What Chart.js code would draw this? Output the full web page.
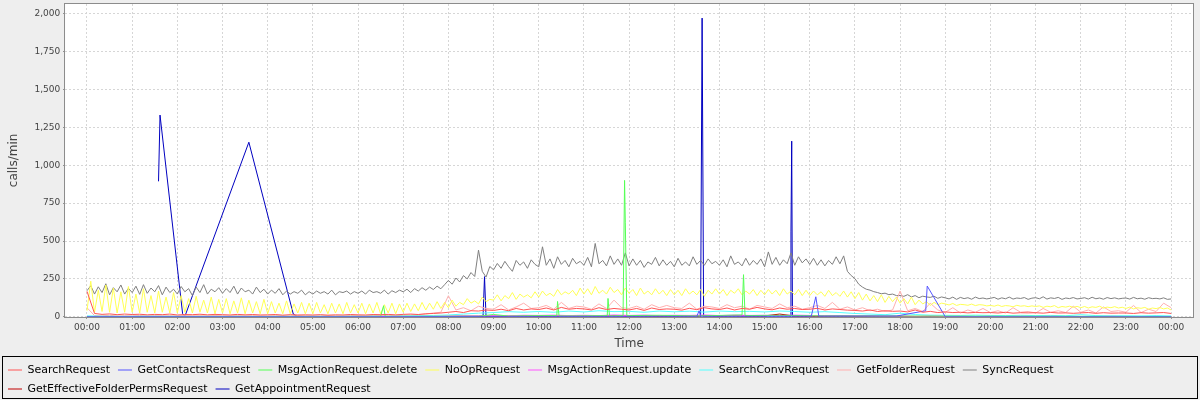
<!DOCTYPE html>
<html>
<head>
<meta charset="utf-8">
<script src="https://cdn.jsdelivr.net/npm/chart.js@4.4.0/dist/chart.umd.min.js"></script>
<style>
  html, body { margin: 0; padding: 0; background: #eeeeee; }
</style>
</head>
<body>
<canvas id="chart" width="1200" height="400"></canvas>
<script>
// ─── Data (minutes since 00:00) ─────────────────────────────────────────────

const SERIES_NAMES = [
  'SearchRequest', 'GetContactsRequest', 'MsgActionRequest.delete', 'NoOpRequest',
  'MsgActionRequest.update', 'SearchConvRequest', 'GetFolderRequest', 'SyncRequest',
  'GetEffectiveFolderPermsRequest', 'GetAppointmentRequest'
];
const SERIES_COLORS = [
  '#ff5555', '#5555ff', '#55ff55', '#ffff55', '#ff55ff',
  '#55ffff', '#ffafaf', '#808080', '#c00000', '#0000c0'
];

const TIME_LABELS = [
  '00:00', '01:00', '02:00', '03:00', '04:00', '05:00', '06:00', '07:00', '08:00',
  '09:00', '10:00', '11:00', '12:00', '13:00', '14:00', '15:00', '16:00', '17:00',
  '18:00', '19:00', '20:00', '21:00', '22:00', '23:00', '00:00'
];
const Y_TICKS = [0, 250, 500, 750, 1000, 1250, 1500, 1750, 2000];

// SyncRequest, one value every 5 minutes
const syncRequest = [
  172,205,150,198,160,218,145,192,165,210,150,188,
  160,202,148,212,155,190,165,206,145,196,160,182,
  150,200,165,186,140,196,160,212,150,182,165,192,
  155,186,160,202,150,190,165,176,150,196,160,182,
  150,176,155,186,145,170,150,166,155,176,145,166,
  150,170,155,166,150,176,145,166,160,170,150,166,
  155,170,150,176,160,166,155,176,150,172,160,176,
  165,182,160,186,170,192,175,196,180,202,185,212,
  240,215,256,230,272,250,292,266,440,300,262,332,
  310,352,320,366,330,300,372,340,362,320,376,346,
  330,462,340,382,320,396,346,372,330,386,350,366,
  340,392,330,484,350,372,336,402,346,382,340,422,
  336,382,340,372,326,362,346,392,336,376,340,366,
  330,386,340,362,336,396,346,372,340,382,350,366,
  340,376,330,402,346,362,336,386,340,372,346,382,
  330,428,346,392,340,376,350,422,340,396,356,382,
  346,386,340,376,336,372,346,396,350,402,300,272,
  252,215,196,182,176,166,160,152,156,146,150,140,
  141,135,146,131,140,126,136,131,128,136,122,131,
  125,118,130,115,128,120,126,116,130,120,124,118,
  122,128,116,125,119,130,117,124,121,127,115,123,
  126,119,132,117,125,121,128,115,124,120,127,118,
  121,126,117,129,119,124,116,127,120,125,118,122,
  124,117,128,119,123,116,126,120,122,118,125,115,
  118
];

// NoOpRequest, one value every 5 minutes
const noOpRequest = [
  40,235,30,175,35,210,30,190,25,165,30,200,
  30,150,25,185,30,140,25,170,30,130,25,160,
  25,140,30,120,25,135,30,110,25,130,20,115,
  25,120,20,105,25,125,20,110,25,100,20,115,
  20,100,25,90,20,105,20,85,25,95,20,90,
  20,95,25,80,20,90,25,85,20,95,25,80,
  25,90,20,85,25,95,20,80,25,90,20,85,
  30,90,35,85,40,95,45,90,50,100,55,95,
  60,110,70,95,80,120,90,105,85,130,100,115,
  110,145,105,140,120,160,115,150,130,145,125,165,
  130,170,140,155,135,180,145,165,150,175,140,190,
  150,185,145,200,155,175,150,195,160,180,145,190,
  155,180,140,190,150,170,145,185,150,175,140,180,
  145,175,140,185,150,170,145,180,135,175,150,185,
  150,180,140,175,155,185,145,170,150,180,140,175,
  145,180,150,175,140,185,150,170,145,180,140,175,
  140,170,145,165,135,175,140,160,135,170,130,165,
  120,160,110,150,105,140,100,145,95,135,100,130,
  90,120,85,130,80,110,85,100,75,95,80,90,
  85,78,88,75,82,80,76,84,74,80,78,72,
  75,70,78,68,74,72,66,76,70,73,67,72,
  68,72,62,70,66,74,60,68,64,70,62,69,
  60,68,58,66,62,70,57,64,60,67,58,63,
  55,64,52,60,56,62,50,58,54,61,52,58,
  45
];

// SearchRequest, one value every 10 minutes
const searchRequest = [
  168,22,16,19,14,18,  15,17,13,16,14,18,  12,15,14,17,13,16,  14,12,16,13,15,12,
  13,15,11,14,12,13,  12,14,11,13,12,15,  13,12,15,14,16,13,  16,18,15,20,22,25,
  30,35,28,40,38,45,  42,50,40,55,45,52,  48,58,45,62,50,55,  52,45,60,48,55,50,
  45,55,42,58,48,52,  50,44,56,47,60,52,  48,58,45,55,50,62,  52,46,58,50,55,48,
  50,56,45,52,48,44,  42,38,45,35,40,36,  38,32,45,30,36,28,  32,28,30,26,29,27,
  28,25,30,24,27,26,  27,24,29,25,26,23,  26,28,23,27,24,25,  25,22,27,24,26,28,
  22
];

// GetFolderRequest, one value every 10 minutes
const getFolderRequest = [
  60,8,6,10,5,7,  6,9,5,8,6,7,  5,8,6,7,5,9,  6,5,8,6,7,5,
  5,7,6,5,8,6,  6,5,7,6,5,8,  7,6,9,8,10,7,  10,12,15,18,25,30,
  139,45,60,40,70,55,  50,80,45,65,90,55,  60,75,50,95,55,70,  65,50,85,55,110,60,
  55,70,50,80,60,75,  60,55,90,50,70,65,  55,80,60,70,50,75,  65,55,85,60,70,50,
  60,75,55,95,50,65,  45,60,40,50,35,45,  170,40,55,35,90,45,  30,60,25,45,30,55,
  28,40,25,60,30,35,  25,55,30,40,28,70,  30,45,25,65,35,40,  30,75,28,50,35,90,
  60
];

// SearchConvRequest, one value every 20 minutes
const searchConvRequest = [
  6,4,3, 3,4,3, 3,2,3, 2,3,2, 2,3,2, 3,2,3, 3,4,3, 5,7,9,
  12,18,24, 28,34,30, 35,30,38, 32,40,34, 36,30,38, 33,37,31, 38,34,36, 32,38,35,
  30,34,28, 22,18,14, 24,15,11, 10,9,11, 9,8,10, 8,9,7, 14,8,7, 7,6,8,
  6
];

// MsgActionRequest.update, one value every 20 minutes
const msgUpdateRequest = [
  2,1,2, 1,2,1, 1,1,2, 1,2,1, 1,1,1, 1,2,1, 2,1,2, 2,3,3,
  4,6,7, 8,7,10, 9,11,8, 10,8,12, 9,11,8, 10,9,12, 8,11,9, 10,8,11,
  9,7,8, 6,5,4, 4,3,4, 3,3,2, 3,2,3, 2,3,2, 2,2,3, 2,2,2,
  2
];

// GetEffectiveFolderPermsRequest, one value every 20 minutes
const effPermsRequest = [
  1,0,1, 0,1,0, 1,0,0, 0,1,0, 0,0,1, 0,1,0, 1,0,1, 1,2,2,
  3,4,3, 5,4,6, 4,6,5, 6,5,7, 5,6,4, 6,5,7, 5,7,5, 6,18,5,
  5,4,6, 3,4,3, 3,2,3, 2,2,1, 2,1,2, 1,2,1, 2,1,1, 1,1,1,
  1
];

// sparse series: sample time (minutes) + value
const msgDeleteTimes  = [0, 390, 394, 396, 520, 540, 560, 600, 624, 625, 627, 650, 691, 692, 694, 712, 714, 715, 717, 760, 810, 870, 872, 874, 920, 980, 1080, 1440];
const msgDeleteValues = [2, 3, 73, 3, 4, 15, 5, 8, 8, 101, 6, 6, 8, 121, 6, 8, 900, 620, 8, 10, 6, 12, 278, 8, 10, 6, 5, 2];

const contactsTimes  = [0, 300, 480, 810, 813, 815, 962, 968, 972, 1075, 1114, 1116, 1140, 1440];
const contactsValues = [2, 1, 2, 3, 40, 3, 4, 132, 4, 5, 40, 203, 0, 1];

const appointmentTimes  = [95, 97, 127, 130, 215, 274, 280, 526, 528, 530, 815, 817, 819, 934, 935, 936, 937, 1440];
const appointmentValues = [894, 1331, 20, 3, 1152, 18, 0, 0, 265, 0, 0, 1971, 0, 0, 560, 1159, 0, 0];

// ─── Helpers ────────────────────────────────────────────────────────────────

function everyMinutes(values, step) {
  return values.map((v, i) => ({ x: i * step, y: v }));
}

function pairs(times, values) {
  return times.map((t, i) => ({ x: t, y: values[i] }));
}

const SERIES_DATA = [
  everyMinutes(searchRequest, 10),
  pairs(contactsTimes, contactsValues),
  pairs(msgDeleteTimes, msgDeleteValues),
  everyMinutes(noOpRequest, 5),
  everyMinutes(msgUpdateRequest, 20),
  everyMinutes(searchConvRequest, 20),
  everyMinutes(getFolderRequest, 10),
  everyMinutes(syncRequest, 5),
  everyMinutes(effPermsRequest, 20),
  pairs(appointmentTimes, appointmentValues)
];

const FONT = 'DejaVu Sans';

const plotFrame = {
  id: 'plotFrame',
  beforeDraw(chart) {
    const { ctx, chartArea: a } = chart;
    ctx.save();
    ctx.fillStyle = '#eeeeee';
    ctx.fillRect(0, 0, chart.width, chart.height);
    ctx.fillStyle = '#ffffff';
    ctx.fillRect(a.left, a.top, a.right - a.left, a.bottom - a.top);
    ctx.restore();
  },
  afterDraw(chart) {
    const { ctx, chartArea: a } = chart;
    ctx.save();
    ctx.lineWidth = 1;
    ctx.strokeStyle = '#8c8c8c';
    ctx.strokeRect(Math.round(a.left) - 0.5, Math.round(a.top) - 0.5,
      Math.round(a.right - a.left) + 1, Math.round(a.bottom - a.top) + 1);
    // legend frame
    ctx.strokeStyle = '#000000';
    ctx.strokeRect(2.5, 356.5, 1195, 42);
    ctx.restore();
  }
};

const datasets = SERIES_NAMES.map((name, i) => ({
  label: name,
  data: SERIES_DATA[i],
  borderColor: SERIES_COLORS[i],
  backgroundColor: SERIES_COLORS[i],
  borderWidth: 1,
  pointRadius: 0,
  tension: 0,
  fill: false
}));

new Chart(document.getElementById('chart'), {
  type: 'line',
  data: { datasets },
  plugins: [plotFrame],
  options: {
    responsive: false,
    animation: false,
    events: [],
    layout: { padding: { left: 0, right: 7, top: 4, bottom: -4.5 } },
    plugins: {
      legend: {
        position: 'bottom',
        align: 'start',
        labels: {
          font: { family: FONT, size: 11 },
          color: '#000000',
          usePointStyle: true,
          pointStyle: 'line',
          pointStyleWidth: 14,
          padding: 8
        }
      },
      tooltip: { enabled: false }
    },
    scales: {
      x: {
        type: 'linear',
        min: -29,
        max: 1469,
        afterBuildTicks: s => { s.ticks = TIME_LABELS.map((_, i) => ({ value: i * 60 })); },
        ticks: {
          autoSkip: false, maxRotation: 0, padding: 3,
          font: { family: FONT, size: 9 }, color: '#444444',
          callback: (v, i) => TIME_LABELS[i]
        },
        grid: { color: '#d6d6d6', tickColor: '#808080', tickLength: 2 },
        border: { display: false, dash: [2, 2] },
        title: {
          display: true, text: 'Time', color: '#444444',
          font: { family: FONT, size: 12 }, padding: { top: 1.5, bottom: 5 }
        }
      },
      y: {
        type: 'linear',
        min: 0,
        max: 2064,
        afterBuildTicks: s => { s.ticks = Y_TICKS.map(v => ({ value: v })); },
        afterFit: s => { s.paddingTop = 0; },
        ticks: {
          padding: 3,
          font: { family: FONT, size: 9 }, color: '#444444',
          callback: v => v.toLocaleString('en-US')
        },
        grid: { color: '#d6d6d6', tickColor: '#808080', tickLength: 2 },
        border: { display: false, dash: [2, 2] },
        title: {
          display: true, text: 'calls/min', color: '#444444',
          font: { family: FONT, size: 12 }, padding: { top: 7, bottom: 10 }
        }
      }
    }
  }
});
</script>
</body>
</html>
